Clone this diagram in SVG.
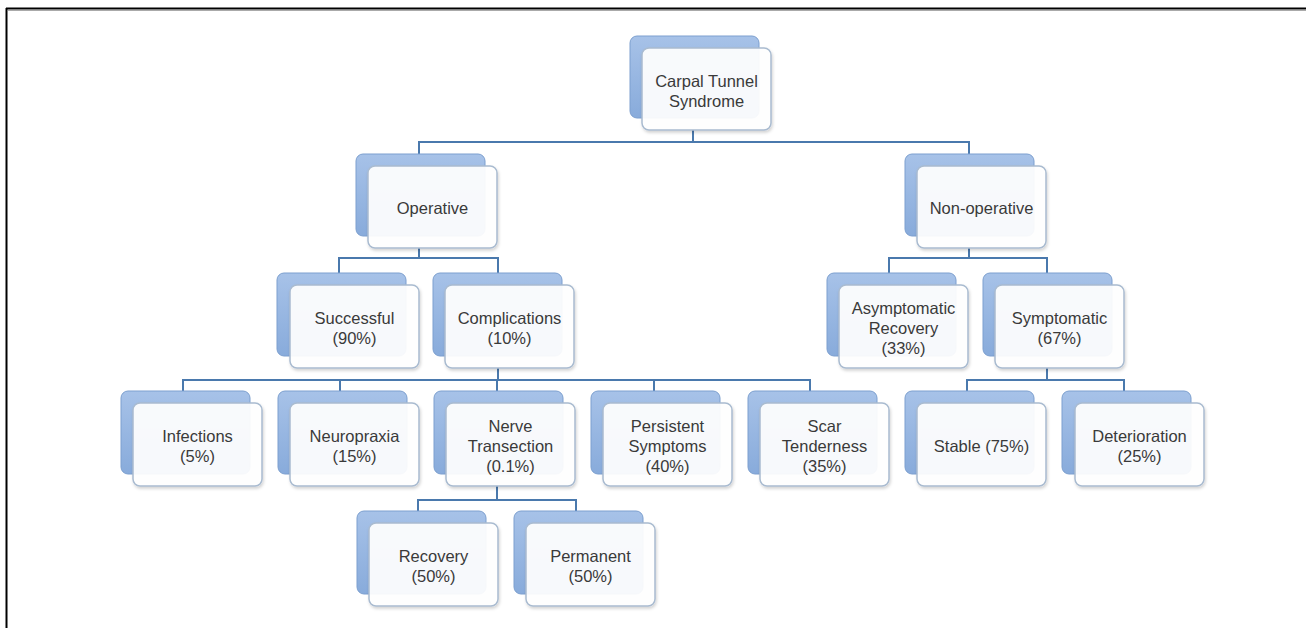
<svg xmlns="http://www.w3.org/2000/svg" width="1306" height="628" viewBox="0 0 1306 628">
<defs>
<linearGradient id="bg" x1="0" y1="0" x2="0" y2="1">
<stop offset="0" stop-color="#a7c2e8"/>
<stop offset="1" stop-color="#88abdb"/>
</linearGradient>
<filter id="sh" x="-10%" y="-10%" width="130%" height="130%">
<feDropShadow dx="1" dy="2" stdDeviation="1.5" flood-color="#000" flood-opacity="0.18"/>
</filter>
<style>
.back{fill:url(#bg);stroke:#7c9fcf;stroke-width:1}
.front{fill:#ffffff;fill-opacity:0.93;stroke:#a9bbd0;stroke-width:1.5;filter:url(#sh)}
.t{font-family:"Liberation Sans",Arial,sans-serif;font-size:16.5px;fill:#3a3a3a;text-anchor:middle}
.c{fill:none;stroke:#4a79ad;stroke-width:2}
.frame{stroke:#000;stroke-width:2}
</style>
</defs>
<rect width="1306" height="628" fill="#fff"/>
<g id="frame">
<line class="frame" x1="6" y1="8.5" x2="1306" y2="8.5"/>
<line class="frame" x1="6.5" y1="8" x2="6.5" y2="628"/>
<line x1="8" y1="10.5" x2="1306" y2="10.5" stroke="#aaa" stroke-width="1"/>
</g>
<g id="connectors">
<path class="c" d="M693 130V142M419 154V142H969V154"/>
<path class="c" d="M419 248V258M339 273V258H498V273"/>
<path class="c" d="M969 248V258M889 273V258H1047V273"/>
<path class="c" d="M498 368V380M183 391V380H810V391M340 380V391M497 380V391M654 380V391"/>
<path class="c" d="M1047 368V380M967 391V380H1124V391"/>
<path class="c" d="M497 485V500M418 511V500H576V511"/>
</g>
<g id="n-root"><rect class="back" x="630" y="36" width="129" height="82" rx="7"/><rect class="front" x="642" y="48" width="129" height="82" rx="7"/><text class="t" x="706.5"><tspan x="706.5" y="87">Carpal Tunnel</tspan><tspan x="706.5" y="107">Syndrome</tspan></text></g>
<g id="n-operative"><rect class="back" x="356" y="154" width="129" height="82" rx="7"/><rect class="front" x="368" y="166" width="129" height="82" rx="7"/><text class="t" x="432.5" y="214">Operative</text></g>
<g id="n-nonoperative"><rect class="back" x="905" y="154" width="129" height="82" rx="7"/><rect class="front" x="917" y="166" width="129" height="82" rx="7"/><text class="t" x="981.5" y="214">Non-operative</text></g>
<g id="n-successful"><rect class="back" x="277" y="273" width="129" height="83" rx="7"/><rect class="front" x="290" y="285" width="129" height="83" rx="7"/><text class="t"><tspan x="354.5" y="323.5">Successful</tspan><tspan x="354.5" y="343.5">(90%)</tspan></text></g>
<g id="n-complications"><rect class="back" x="433" y="273" width="129" height="83" rx="7"/><rect class="front" x="445" y="285" width="129" height="83" rx="7"/><text class="t"><tspan x="509.5" y="323.5">Complications</tspan><tspan x="509.5" y="343.5">(10%)</tspan></text></g>
<g id="n-asymptomatic"><rect class="back" x="827" y="273" width="129" height="83" rx="7"/><rect class="front" x="839" y="285" width="129" height="83" rx="7"/><text class="t"><tspan x="903.5" y="313.5">Asymptomatic</tspan><tspan x="903.5" y="333.5">Recovery</tspan><tspan x="903.5" y="353.5">(33%)</tspan></text></g>
<g id="n-symptomatic"><rect class="back" x="983" y="273" width="129" height="83" rx="7"/><rect class="front" x="995" y="285" width="129" height="83" rx="7"/><text class="t"><tspan x="1059.5" y="323.5">Symptomatic</tspan><tspan x="1059.5" y="343.5">(67%)</tspan></text></g>
<g id="n-infections"><rect class="back" x="121" y="391" width="129" height="83" rx="7"/><rect class="front" x="133" y="403" width="129" height="83" rx="7"/><text class="t"><tspan x="197.5" y="441.5">Infections</tspan><tspan x="197.5" y="461.5">(5%)</tspan></text></g>
<g id="n-neuropraxia"><rect class="back" x="278" y="391" width="129" height="83" rx="7"/><rect class="front" x="290" y="403" width="129" height="83" rx="7"/><text class="t"><tspan x="354.5" y="441.5">Neuropraxia</tspan><tspan x="354.5" y="461.5">(15%)</tspan></text></g>
<g id="n-nerve"><rect class="back" x="434" y="391" width="129" height="83" rx="7"/><rect class="front" x="446" y="403" width="129" height="83" rx="7"/><text class="t"><tspan x="510.5" y="431.5">Nerve</tspan><tspan x="510.5" y="451.5">Transection</tspan><tspan x="510.5" y="471.5">(0.1%)</tspan></text></g>
<g id="n-persistent"><rect class="back" x="591" y="391" width="129" height="83" rx="7"/><rect class="front" x="603" y="403" width="129" height="83" rx="7"/><text class="t"><tspan x="667.5" y="431.5">Persistent</tspan><tspan x="667.5" y="451.5">Symptoms</tspan><tspan x="667.5" y="471.5">(40%)</tspan></text></g>
<g id="n-scar"><rect class="back" x="748" y="391" width="129" height="83" rx="7"/><rect class="front" x="760" y="403" width="129" height="83" rx="7"/><text class="t"><tspan x="824.5" y="431.5">Scar</tspan><tspan x="824.5" y="451.5">Tenderness</tspan><tspan x="824.5" y="471.5">(35%)</tspan></text></g>
<g id="n-stable"><rect class="back" x="905" y="391" width="129" height="83" rx="7"/><rect class="front" x="917" y="403" width="129" height="83" rx="7"/><text class="t" x="981.5" y="451.5">Stable (75%)</text></g>
<g id="n-deterioration"><rect class="back" x="1062" y="391" width="129" height="83" rx="7"/><rect class="front" x="1075" y="403" width="129" height="83" rx="7"/><text class="t"><tspan x="1139.5" y="441.5">Deterioration</tspan><tspan x="1139.5" y="461.5">(25%)</tspan></text></g>
<g id="n-recovery"><rect class="back" x="357" y="511" width="129" height="83" rx="7"/><rect class="front" x="369" y="523" width="129" height="83" rx="7"/><text class="t"><tspan x="433.5" y="561.5">Recovery</tspan><tspan x="433.5" y="581.5">(50%)</tspan></text></g>
<g id="n-permanent"><rect class="back" x="514" y="511" width="129" height="83" rx="7"/><rect class="front" x="526" y="523" width="129" height="83" rx="7"/><text class="t"><tspan x="590.5" y="561.5">Permanent</tspan><tspan x="590.5" y="581.5">(50%)</tspan></text></g>
</svg>
